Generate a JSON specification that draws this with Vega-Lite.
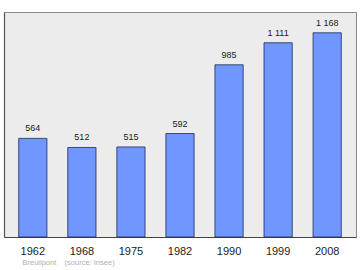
{
  "$schema": "https://vega.github.io/schema/vega-lite/v6.json",
  "autosize": {"type": "none"},
  "width": 352,
  "height": 225,
  "padding": {"left": 4, "top": 12, "right": 4, "bottom": 33},
  "background": "white",
  "config": {
    "view": {"fill": "#ececec", "stroke": "#8a8a8a", "strokeWidth": 1},
    "font": "Liberation Sans"
  },
  "data": {
    "values": [
      {"year": "1962", "pop": 564, "label": "564"},
      {"year": "1968", "pop": 512, "label": "512"},
      {"year": "1975", "pop": 515, "label": "515"},
      {"year": "1982", "pop": 592, "label": "592"},
      {"year": "1990", "pop": 985, "label": "985"},
      {"year": "1999", "pop": 1111, "label": "1 111"},
      {"year": "2008", "pop": 1168, "label": "1 168"}
    ]
  },
  "encoding": {
    "x": {
      "field": "year",
      "type": "ordinal",
      "sort": null,
      "scale": {"paddingInner": 0.425, "paddingOuter": 0.3},
      "axis": {
        "title": "Breuilpont\u00a0\u00a0\u00a0\u00a0(source: Insee)",
        "titleFont": "Liberation Sans",
        "titleFontSize": 7.5,
        "titleFontWeight": "normal",
        "titleColor": "#b0b0b0",
        "titleAnchor": "start",
        "titleAlign": "left",
        "titleX": 18,
        "titleY": 27,
        "titleBaseline": "alphabetic",
        "labelAngle": 0,
        "labelFontSize": 11,
        "labelColor": "#222222",
        "labelPadding": 8,
        "ticks": false,
        "tickSize": 0,
        "domainColor": "#444444",
        "domainWidth": 1.2
      }
    },
    "y": {
      "field": "pop",
      "type": "quantitative",
      "scale": {"domain": [0, 1287], "nice": false},
      "axis": {
        "title": null,
        "labels": false,
        "ticks": false,
        "grid": false,
        "domainColor": "#555555",
        "domainWidth": 1.2
      }
    }
  },
  "layer": [
    {
      "mark": {"type": "bar", "fill": "#7096ff", "stroke": "#1f2a5a", "strokeWidth": 0.8}
    },
    {
      "mark": {"type": "text", "baseline": "alphabetic", "dy": -7, "fontSize": 9, "color": "#222222"},
      "encoding": {"text": {"field": "label"}}
    }
  ]
}
